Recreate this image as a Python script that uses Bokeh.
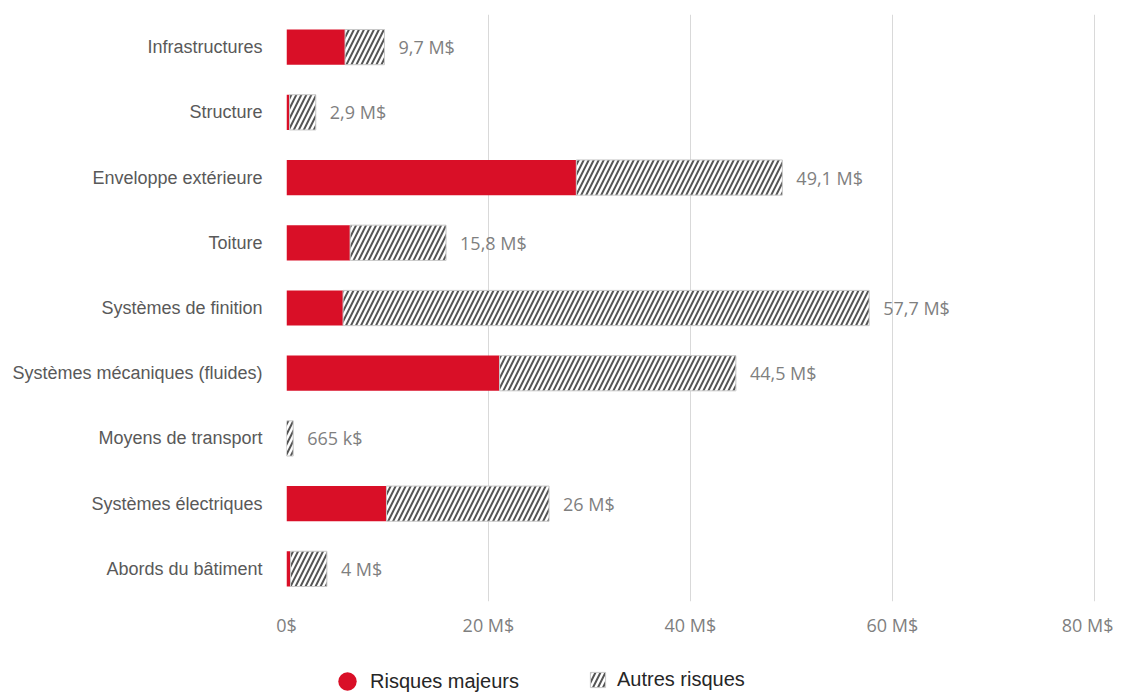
from bokeh.plotting import figure
from bokeh.layouts import column
from bokeh.models import (ColumnDataSource, FactorRange, Range1d, FixedTicker,
                          CustomJSTickFormatter, Legend, LegendItem)
from bokeh.core.properties import value
from bokeh.embed import file_html
from bokeh.resources import INLINE

categories = ["Infrastructures", "Structure", "Enveloppe extérieure", "Toiture",
              "Systèmes de finition", "Systèmes mécaniques (fluides)",
              "Moyens de transport", "Systèmes électriques", "Abords du bâtiment"]
majeurs = [5.8, 0.3, 28.7, 6.3, 5.6, 21.1, 0.0, 9.9, 0.4]
totaux = [9.7, 2.9, 49.1, 15.8, 57.7, 44.5, 0.665, 26.0, 4.0]
labels = ["9,7 M$", "2,9 M$", "49,1 M$", "15,8 M$", "57,7 M$", "44,5 M$",
          "665 k$", "26 M$", "4 M$"]
series_names = ["Risques majeurs", "Autres risques"]
ticks = [0, 20, 40, 60, 80]

RED = "#d90f27"
HATCH = dict(fill_color="white", line_color="#c8c8c8", line_width=1,
             hatch_pattern="/", hatch_color="#555555", hatch_weight=2,
             hatch_scale=10)

src = ColumnDataSource(dict(cat=categories, maj=majeurs, tot=totaux, lab=labels))

p = figure(y_range=FactorRange(*reversed(categories), range_padding=0),
           x_range=Range1d(0, 81),
           width=1113, height=645,
           min_border_left=286, min_border_right=9, min_border_top=14,
           min_border_bottom=44,
           output_backend="svg", toolbar_location=None)

p.outline_line_color = None
p.background_fill_color = "white"
p.border_fill_color = "white"

p.xgrid.grid_line_color = "#d9d9d9"
p.xgrid.grid_line_width = 1
p.ygrid.grid_line_color = None

p.xaxis.ticker = FixedTicker(ticks=ticks)
p.xaxis.formatter = CustomJSTickFormatter(code="return tick == 0 ? '0$' : tick + ' M$';")
p.xaxis.axis_line_color = None
p.xaxis.major_tick_line_color = None
p.xaxis.minor_tick_line_color = None
p.xaxis.major_tick_out = 0
p.xaxis.major_label_text_font = "Open Sans"
p.xaxis.major_label_text_font_size = "18px"
p.xaxis.major_label_text_color = "#7f7f7f"
p.xaxis.major_label_standoff = 11

p.yaxis.axis_line_color = None
p.yaxis.major_tick_line_color = None
p.yaxis.minor_tick_line_color = None
p.yaxis.major_tick_out = 0
p.yaxis.major_label_text_font = "Liberation Sans"
p.yaxis.major_label_text_font_size = "18px"
p.yaxis.major_label_text_color = "#595959"
p.yaxis.major_label_standoff = 24

h = 0.54
p.hbar(y="cat", left=0, right="maj", height=h, source=src,
       fill_color=RED, line_color=None)
p.hbar(y="cat", left="maj", right="tot", height=h, source=src, **HATCH)

p.text(x="tot", y="cat", text="lab", source=src, x_offset=14,
       text_baseline="middle", text_align="left",
       text_font=value("Open Sans"), text_font_size="18px",
       text_color="#7f7f7f")

# legend strip below the chart
lg = figure(width=1113, height=48, x_range=Range1d(0, 1), y_range=Range1d(0, 1),
            x_axis_type=None, y_axis_type=None,
            min_border_left=0, min_border_right=0, min_border_top=0,
            min_border_bottom=0, output_backend="svg", toolbar_location=None)
lg.outline_line_color = None
lg.xgrid.grid_line_color = None
lg.ygrid.grid_line_color = None
nan = float("nan")
dot = lg.scatter(x=[nan], y=[nan], marker="circle", size=20, fill_color=RED,
                 line_color=None)
hb = lg.hbar(y=[nan], left=[nan], right=[nan], height=0.5, **HATCH)

common = dict(orientation="horizontal", label_text_font="Liberation Sans",
              label_text_font_size="20px", label_text_color="#262626",
              border_line_color=None, background_fill_alpha=0,
              padding=0, margin=0)
leg1 = Legend(items=[LegendItem(label=series_names[0], renderers=[dot])],
              location=(38, -11), glyph_width=46, glyph_height=46,
              label_standoff=-4, **common)
leg2 = Legend(items=[LegendItem(label=series_names[1], renderers=[hb])],
              location=(302, 2), glyph_width=19, glyph_height=19,
              label_standoff=10, **common)
lg.add_layout(leg1, "center")
lg.add_layout(leg2, "center")

open("out.html", "w").write(file_html(column(p, lg, spacing=0), INLINE))
